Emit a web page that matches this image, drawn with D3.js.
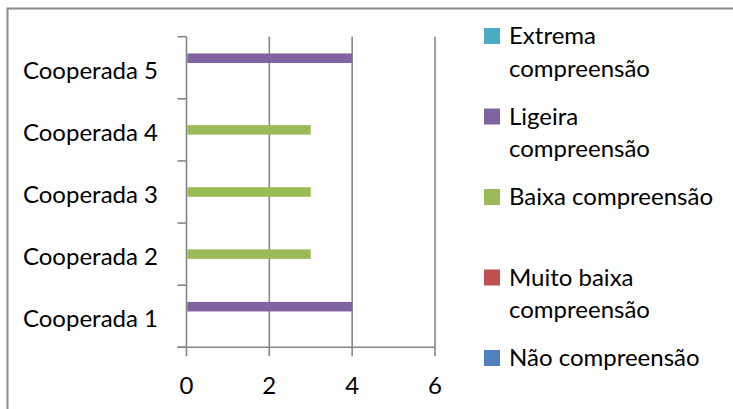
<!DOCTYPE html>
<html>
<head>
<meta charset="utf-8">
<script src="https://cdn.jsdelivr.net/npm/d3@7"></script>
<style>
  html, body { margin: 0; padding: 0; background: #fff; }
  svg { display: block; }
  text { font-family: Lato, "Open Sans", sans-serif; fill: #000; }
</style>
</head>
<body>
<svg id="chart" width="733" height="409"></svg>
<script>
// Categories (bottom to top) and one value array per comprehension level
const categories = ["Cooperada 1", "Cooperada 2", "Cooperada 3", "Cooperada 4", "Cooperada 5"];
const naoCompreensao        = [0, 0, 0, 0, 0];
const muitoBaixaCompreensao = [0, 0, 0, 0, 0];
const baixaCompreensao      = [0, 3, 3, 3, 0];
const ligeiraCompreensao    = [4, 0, 0, 0, 4];
const extremaCompreensao    = [0, 0, 0, 0, 0];
const xTicks = [0, 2, 4, 6];

// Series listed top-down, the same order as the legend
const seriesNames  = ["Extrema compreensão", "Ligeira compreensão", "Baixa compreensão", "Muito baixa compreensão", "Não compreensão"];
const seriesValues = [extremaCompreensao, ligeiraCompreensao, baixaCompreensao, muitoBaixaCompreensao, naoCompreensao];
const seriesColors = ["#4BACC6", "#8064A2", "#9BBB59", "#C0504D", "#4F81BD"];
// Legend text broken into lines
const legendLines = [["Extrema", "compreensão"], ["Ligeira", "compreensão"], ["Baixa compreensão"], ["Muito baixa", "compreensão"], ["Não compreensão"]];

const svg = d3.select("#chart");
const FONT = 24;
const gridColor = "#868686";

// Outer chart frame
svg.append("rect")
  .attr("x", 7.5).attr("y", 8.5)
  .attr("width", 740).attr("height", 420)
  .attr("fill", "none").attr("stroke", "#8c8c8c").attr("stroke-width", 2);

const plot = { left: 186.5, right: 435, top: 36.7, bottom: 347.3 };

const x = d3.scaleLinear().domain([0, 6]).range([plot.left, plot.right]);
// Cooperada 5 on top
const y = d3.scaleBand().domain(categories.slice().reverse()).range([plot.top, plot.bottom]).padding(0);
const inner = d3.scaleBand().domain(seriesNames).range([0, y.bandwidth()])
  .paddingInner(0).paddingOuter(0.75);

// Vertical gridlines (with tick stubs below the axis)
svg.append("g").selectAll("line").data(xTicks).join("line")
  .attr("x1", d => x(d)).attr("x2", d => x(d))
  .attr("y1", plot.top).attr("y2", plot.bottom + 9)
  .attr("stroke", gridColor).attr("stroke-width", 1.6);

// Horizontal value axis line
svg.append("line")
  .attr("x1", plot.left - 9).attr("x2", plot.right)
  .attr("y1", plot.bottom).attr("y2", plot.bottom)
  .attr("stroke", gridColor).attr("stroke-width", 1.6);

// Category tick marks at band boundaries
const boundaries = categories.map(c => y(c)).concat([plot.bottom]);
svg.append("g").selectAll("line").data(boundaries).join("line")
  .attr("x1", plot.left - 9).attr("x2", plot.left)
  .attr("y1", d => d).attr("y2", d => d)
  .attr("stroke", gridColor).attr("stroke-width", 1.6);

// Bars
const bars = [];
seriesNames.forEach((s, si) => {
  categories.forEach((c, ci) => {
    bars.push({ series: s, cat: c, value: seriesValues[si][ci], color: seriesColors[si] });
  });
});
svg.append("g").selectAll("rect").data(bars.filter(d => d.value > 0)).join("rect")
  .attr("x", x(0) + 0.8)
  .attr("y", d => y(d.cat) + inner(d.series))
  .attr("width", d => x(d.value) - x(0) - 0.8)
  .attr("height", inner.bandwidth())
  .attr("fill", d => d.color);

// Category labels
svg.append("g").selectAll("text").data(categories).join("text")
  .attr("x", 158)
  .attr("y", d => y(d) + y.bandwidth() / 2 + 10.8)
  .attr("text-anchor", "end")
  .attr("font-size", FONT)
  .text(d => d);

// Value tick labels
svg.append("g").selectAll("text").data(xTicks).join("text")
  .attr("x", d => x(d))
  .attr("y", 394.3)
  .attr("text-anchor", "middle")
  .attr("font-size", FONT)
  .text(d => d);

// Legend
const legendY = d3.scaleLinear().domain([0, 4]).range([44.3, 366.3]);
const leg = svg.append("g").selectAll("g").data(seriesNames).join("g")
  .attr("transform", (d, i) => `translate(0,${legendY(i)})`);
leg.append("rect")
  .attr("x", 484).attr("y", -16.3)
  .attr("width", 16).attr("height", 16)
  .attr("fill", (d, i) => seriesColors[i]);
leg.append("text")
  .attr("font-size", FONT)
  .selectAll("tspan").data((d, i) => legendLines[i]).join("tspan")
  .attr("x", 509)
  .attr("y", (d, j) => j * 32.5)
  .text(d => d);
</script>
</body>
</html>
